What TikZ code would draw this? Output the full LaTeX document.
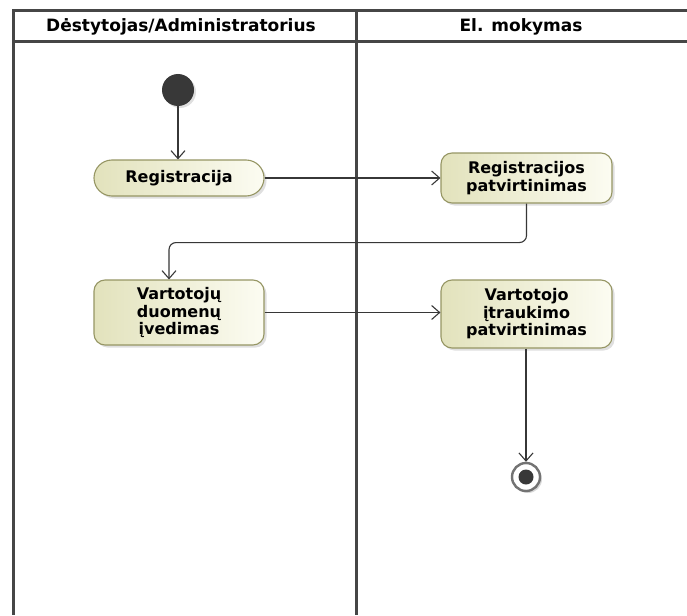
\documentclass[tikz,border=0pt]{standalone}
\usepackage{fontspec}
\setmainfont{DejaVu Sans}
\usetikzlibrary{arrows.meta,shadows}
\definecolor{laneline}{RGB}{70,70,70}
\definecolor{actborder}{RGB}{150,150,100}
\definecolor{actleft}{RGB}{226,226,188}
\definecolor{actright}{RGB}{252,252,242}
\definecolor{flowline}{RGB}{55,55,55}
\tikzset{
  lane/.style={line width=3pt, draw=laneline},
  lanetitle/.style={font=\bfseries\fontsize{17}{20}\selectfont, anchor=center},
  action/.style={draw=actborder, line width=1.1pt, left color=actleft, right color=actright,
    rounded corners=11pt, align=center, inner sep=0pt,
    font=\bfseries\fontsize{16}{17.5}\selectfont,
    drop shadow={opacity=0.25, shadow xshift=2.5pt, shadow yshift=-2.5pt}},
  flow/.style={draw=flowline, line width=1.1pt, -{Straight Barb[length=8pt,width=14pt,line width=1.1pt]}},
}
\begin{document}
\begin{tikzpicture}[x=1pt,y=-1pt]
  \useasboundingbox (0,0) rectangle (687,615);
  \fill[white] (0,0) rectangle (687,615);

  % swimlane frame
  \draw[lane] (687,11) -- (13,11) -- (13,615);
  \draw[lane] (13,42) -- (687,42);
  \draw[lane] (356,11) -- (356,615);
  \node[lanetitle] (laneA) at (181,27) {Dėstytojas/Administratorius};
  \node[lanetitle] (laneB) at (521,27) {El. mokymas};

  % initial node
  \node[circle, fill=black!78, minimum size=32pt, inner sep=0pt,
        drop shadow={opacity=0.25, shadow xshift=2pt, shadow yshift=-2pt}] (start) at (178,90) {};

  % actions
  \node[action, rounded corners=18pt, minimum width=170pt, minimum height=36pt] (reg) at (179,178) {Registracija};
  \node[action, minimum width=171pt, minimum height=50pt] (regok) at (526.5,178) {Registracijos\\patvirtinimas};
  \node[action, minimum width=170pt, minimum height=65pt] (data) at (179,312.5) {Vartotojų\\duomenų\\įvedimas};
  \node[action, minimum width=171pt, minimum height=68pt] (incl) at (526.5,314) {Vartotojo\\įtraukimo\\patvirtinimas};

  % final node
  \node[circle, draw=black!55, line width=2.4pt, fill=white, minimum size=28pt, inner sep=0pt,
        drop shadow={opacity=0.3, shadow xshift=2pt, shadow yshift=-2pt}] (end) at (526,477) {};
  \node[circle, fill=black!78, minimum size=15pt, inner sep=0pt] (endcore) at (end.center) {};

  % control flows
  \draw[flow] (start) -- (reg.north -| start);
  \draw[flow] (reg.east) -- (regok.west);
  \draw[flow, rounded corners=7pt] (regok.south) -- ++(0,39) -| ([xshift=-10pt]data.north);
  \draw[flow] (data.east) -- (data.east -| incl.west);
  \draw[flow] (incl.south -| end) -- (end.north);
\end{tikzpicture}
\end{document}
